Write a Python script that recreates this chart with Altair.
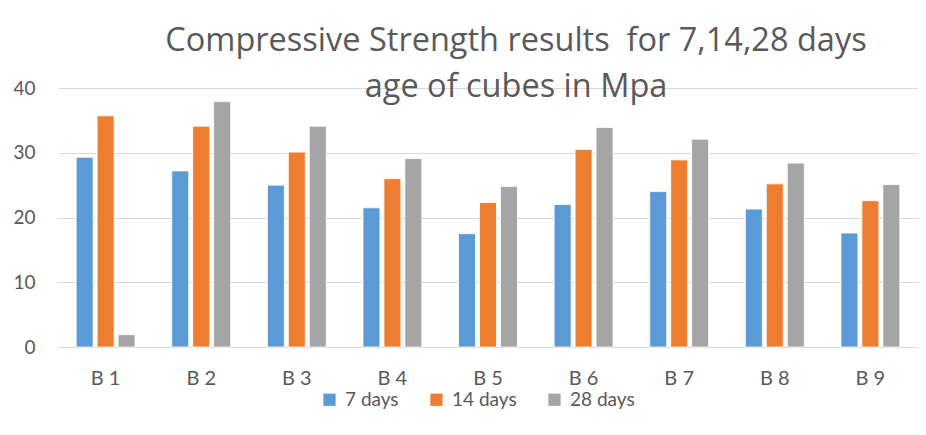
import altair as alt
import pandas as pd

categories = ["B 1", "B 2", "B 3", "B 4", "B 5", "B 6", "B 7", "B 8", "B 9"]
series_names = ["7 days", "14 days", "28 days"]
days7 = [29.3, 27.2, 25.0, 21.5, 17.5, 22.0, 24.0, 21.3, 17.6]
days14 = [35.7, 34.1, 30.1, 26.0, 22.3, 30.5, 28.9, 25.2, 22.6]
days28 = [1.9, 37.9, 34.1, 29.1, 24.8, 33.9, 32.1, 28.4, 25.1]
y_ticks = [0, 10, 20, 30, 40]
colors = ["#5B9BD5", "#ED7D31", "#A5A5A5"]
title_lines = ["Compressive Strength results\u00a0 for 7,14,28 days",
               "age of cubes in Mpa"]

rows = []
for name, vals in zip(series_names, [days7, days14, days28]):
    for c, v in zip(categories, vals):
        rows.append({"Beam": c, "Age": name, "Strength": v})
df = pd.DataFrame(rows)

FONT = "Lato"
GREY = "#595959"

chart = (
    alt.Chart(df)
    .mark_bar(stroke="white", strokeWidth=0.8)
    .encode(
        x=alt.X(
            "Beam:N",
            sort=categories,
            scale=alt.Scale(paddingInner=0.384, paddingOuter=0.19),
            axis=alt.Axis(
                title=None, labelAngle=0, ticks=False, domain=False,
                labelFontSize=20, labelColor=GREY, labelFont=FONT,
                labelPadding=21, grid=False,
            ),
        ),
        xOffset=alt.XOffset(
            "Age:N", sort=series_names,
            scale=alt.Scale(paddingInner=0.19, paddingOuter=0),
        ),
        y=alt.Y(
            "Strength:Q",
            scale=alt.Scale(domain=[0, 40], nice=False),
            axis=alt.Axis(
                title=None, values=y_ticks, ticks=False, domain=False,
                labelFontSize=19, labelColor=GREY, labelFont=FONT,
                labelPadding=23, grid=True, gridColor="#D9D9D9",
                gridWidth=1.2, minExtent=50, maxExtent=50,
            ),
        ),
        color=alt.Color(
            "Age:N", sort=series_names,
            scale=alt.Scale(domain=series_names, range=colors),
            legend=alt.Legend(
                title=None, orient="none", direction="horizontal",
                legendX=262, legendY=302, symbolType="square",
                symbolSize=150, symbolStrokeWidth=0, labelFontSize=19,
                labelColor=GREY, labelFont=FONT, labelOffset=6,
                columnPadding=28,
            ),
        ),
    )
    .properties(
        width=860,
        height=259,
        title=alt.TitleParams(
            text=title_lines,
            fontSize=32.5, font="Open Sans", fontWeight="normal", color=GREY,
            lineHeight=46, anchor="middle", offset=0, dy=24, dx=28,
        ),
        autosize=alt.AutoSizeParams(type="none"),
        padding={"left": 50, "top": 80, "right": 0, "bottom": 75},
        background="white",
    )
    .configure_view(stroke=None)
)

chart.save("out.html", embed_options={"renderer": "svg", "actions": False})
